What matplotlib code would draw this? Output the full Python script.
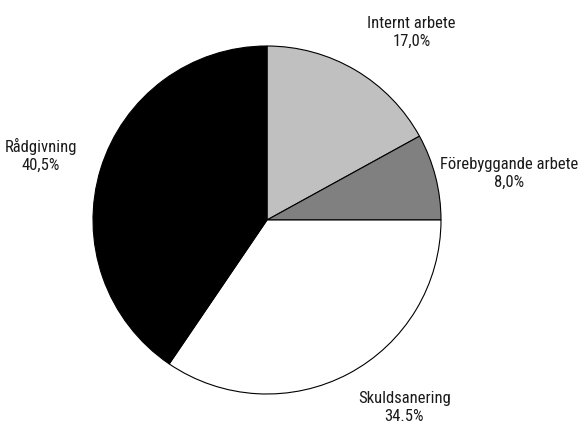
import matplotlib.pyplot as plt

labels = ["Internt arbete", "Förebyggande arbete", "Skuldsanering", "Rådgivning"]
values = [17.0, 8.0, 34.5, 40.5]
pct_text = ["17,0%", "8,0%", "34.5%", "40,5%"]
colors = ["#c0c0c0", "#808080", "#ffffff", "#000000"]

plt.rcParams['font.family'] = ['Roboto Condensed', 'DejaVu Sans']

fig = plt.figure(figsize=(5.87, 4.28), dpi=100)
ax = fig.add_axes([0, 0, 1, 1])

wedges, texts = ax.pie(values, colors=colors, startangle=90, counterclock=False,
                       labels=[f"{l}\n{p}" for l, p in zip(labels, pct_text)],
                       labeldistance=1.36,
                       wedgeprops=dict(edgecolor="black", linewidth=0.8),
                       textprops=dict(fontsize=12, color="#1a1a1a"))
for t in texts:
    t.set_ha("center")
    t.set_va("center")
    t.set_linespacing(1.25)

# nudge labels to where they sit in the original
offsets = [(0.83, 1.08), (1.39, 0.27), (0.79, -1.08), (-1.30, 0.37)]
for t, (x, y) in zip(texts, offsets):
    t.set_position((x, y))

ax.set_xlim(-267 / 174, 320 / 174)
ax.set_ylim(-208 / 174, 220 / 174)
ax.set_aspect("auto")
ax.axis("off")

fig.savefig("out.png", dpi=100)
